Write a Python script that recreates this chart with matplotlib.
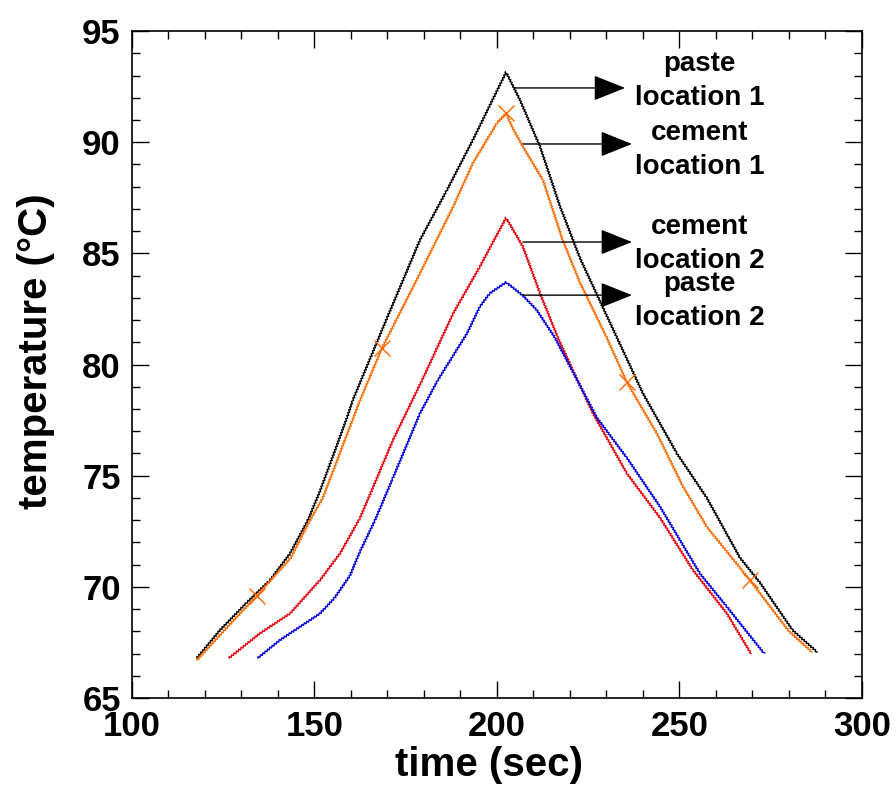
import matplotlib
matplotlib.use("Agg")
import matplotlib.pyplot as plt
from matplotlib.ticker import MultipleLocator

plt.rcParams['font.family'] = ['Liberation Sans', 'DejaVu Sans']
plt.rcParams['font.weight'] = 'bold'

# paste location 1 (black)
paste1_t = [117.8, 124.1, 131.5, 137.8, 143.3, 148.2, 151.5, 158.9, 160.5, 167.1, 169.9,
            178.9, 186.3, 193.4, 202.5, 206.3, 211.8, 217.3, 222.7, 232.9, 240.0,
            249.3, 257.5, 266.6, 272.0, 281.0, 287.7]
paste1_T = [66.8, 68.05, 69.3, 70.3, 71.5, 73.0, 74.3, 77.6, 78.4, 81.0, 82.1,
            85.6, 87.85, 90.1, 93.15, 91.9, 89.8, 87.1, 84.8, 81.2, 78.7,
            76.0, 74.0, 71.3, 70.2, 68.05, 67.07]

# cement location 1 (orange)
cement1_t = [117.8, 124.5, 134.2, 143.5, 148.8, 152.3, 162.5, 168.5, 178.9, 188.0,
             193.4, 200.0, 202.5, 204.4, 207.1, 212.6, 218.0, 222.7, 230.1, 235.6,
             243.8, 251.0, 257.5, 269.3, 280.0, 286.3]
cement1_T = [66.7, 67.9, 69.6, 71.3, 73.0, 74.0, 78.4, 80.74, 84.1, 87.1,
             89.06, 90.86, 91.3, 90.6, 89.8, 88.3, 85.6, 83.7, 81.2, 79.2,
             76.9, 74.5, 72.7, 70.3, 68.0, 67.07]
cement1_mark_t = [134.2, 168.5, 202.5, 235.6, 269.3]
cement1_mark_T = [69.6, 80.74, 91.3, 79.2, 70.3]

# cement location 2 (red)
cement2_t = [126.6, 135.0, 143.3, 151.5, 157.0, 162.5, 171.5, 179.5, 188.0, 195.3,
             202.5, 207.1, 211.8, 216.7, 226.3, 235.6, 244.7, 253.7, 263.0, 269.6]
cement2_T = [66.8, 67.9, 68.8, 70.3, 71.5, 73.1, 76.6, 79.3, 82.3, 84.4,
             86.6, 85.3, 83.2, 81.2, 77.8, 75.1, 73.1, 70.75, 68.8, 67.0]

# paste location 2 (blue)
paste2_t = [134.5, 140.5, 151.5, 155.5, 159.7, 162.5, 166.6, 171.5, 178.9, 183.8, 191.8,
            195.3, 198.0, 202.5, 207.1, 210.9, 215.9, 227.4, 235.6, 244.7, 255.6,
            263.0, 273.2]
paste2_T = [66.8, 67.6, 68.8, 69.5, 70.5, 71.6, 73.0, 74.9, 77.8, 79.3, 81.4,
            82.6, 83.2, 83.7, 83.1, 82.45, 81.2, 77.6, 75.8, 73.6, 70.6,
            69.1, 67.0]

labels = ["paste\nlocation 1", "cement\nlocation 1", "cement\nlocation 2", "paste\nlocation 2"]
arrow_start_t = [204.9, 207.1, 207.1, 207.1]
arrow_end_t = [235.1, 237.0, 237.0, 237.0]
arrow_T = [92.44, 89.92, 85.51, 83.12]
label_T = [92.75, 89.65, 85.4, 82.85]

fig = plt.figure(figsize=(8.96, 8.02), dpi=100)
ax = fig.add_axes([0.1473, 0.1297, 0.962 - 0.1473, 0.9613 - 0.1297])

sk = (1.0, 1.5, 1.0)
for t, T, c in [(paste1_t, paste1_T, "black"), (cement1_t, cement1_T, "#ff6a00"),
                (cement2_t, cement2_T, "#e8000b"), (paste2_t, paste2_T, "#0000e0")]:
    ln, = ax.plot(t, T, color=c, linewidth=1.0)
    ln.set_sketch_params(*sk)

ax.plot(cement1_mark_t, cement1_mark_T, linestyle="none", marker="x",
        markersize=11, markeredgewidth=1.0, color="#ff6a00")

for i in range(len(labels)):
    ax.annotate("", xy=(arrow_end_t[i], arrow_T[i]), xytext=(arrow_start_t[i], arrow_T[i]),
                arrowprops=dict(arrowstyle="-|>,head_length=1.0,head_width=0.4",
                                mutation_scale=20, color="black", linewidth=1.0,
                                shrinkA=0, shrinkB=0))
    ax.text(255.6, label_T[i], labels[i], ha="center", va="center",
            fontsize=20, fontweight="bold", linespacing=1.4)

ax.set_xlim(100, 300)
ax.set_ylim(65, 95)
ax.xaxis.set_major_locator(MultipleLocator(50))
ax.xaxis.set_minor_locator(MultipleLocator(10))
ax.yaxis.set_major_locator(MultipleLocator(5))
ax.yaxis.set_minor_locator(MultipleLocator(1))
ax.tick_params(which="both", direction="in", top=True, right=True, width=1.0)
ax.tick_params(which="major", length=12, labelsize=25)
ax.tick_params(axis="x", which="major", pad=9)
ax.tick_params(axis="y", which="major", pad=8)
ax.tick_params(which="minor", length=6)
for lab in ax.get_xticklabels() + ax.get_yticklabels():
    lab.set_fontweight("bold")
for s in ax.spines.values():
    s.set_linewidth(1.2)

ax.set_xlabel("time (sec)", fontsize=29, fontweight="bold")
ax.set_ylabel("temperature (°C)", fontsize=29, fontweight="bold")
ax.xaxis.set_label_coords(0.489, -0.072)
ax.yaxis.set_label_coords(-0.106, 0.52)

fig.savefig("out.png", dpi=100)
